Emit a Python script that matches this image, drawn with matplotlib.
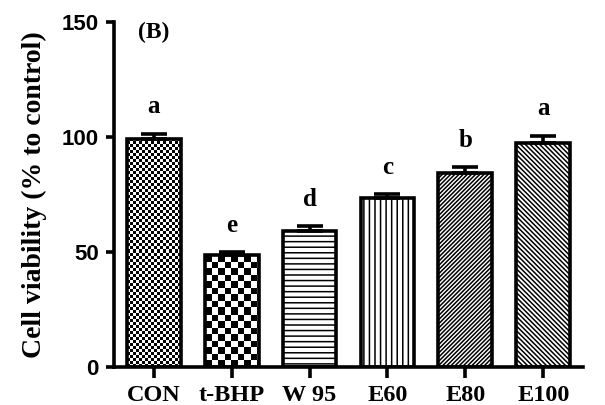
import numpy as np
import matplotlib
matplotlib.use('Agg')
import matplotlib.pyplot as plt

# data
groups = ['CON', 't-BHP', 'W 95', 'E60', 'E80', 'E100']
viability = [99.3, 48.8, 59.1, 73.5, 84.3, 97.4]
sem = [2.0, 1.0, 2.0, 1.5, 2.5, 3.0]
letters = ['a', 'e', 'd', 'c', 'b', 'a']

# fill style per bar: ('checker', cell px) or a hatch string
fills = [('checker', 3), ('checker', 6.5), '---', '|||', '/' * 8, '\\' * 7]

serif = 'Liberation Serif'
sans = 'Liberation Sans'
plt.rcParams['hatch.linewidth'] = 1.1
lw = 2.6

fig = plt.figure(figsize=(6.05, 4.05), dpi=100)
ax = fig.add_axes([114 / 605, 1 - 367 / 405, (583 - 114) / 605, (367 - 22) / 405])
ax.set_xlim(-0.51, 5.51)
ax.set_ylim(0, 150)

x = np.arange(len(groups))
width = 0.69
bars = ax.bar(x, viability, width=width, facecolor='none', edgecolor='black',
              linewidth=lw, zorder=3)

# pixels per data unit, for the checker fills
p0 = ax.transData.transform((0, 0))
p1 = ax.transData.transform((1, 1))
ppx, ppy = p1 - p0

for bar, f in zip(bars, fills):
    if isinstance(f, tuple):
        cell = f[1]
        x0 = bar.get_x()
        w = bar.get_width()
        h = bar.get_height()
        nx = int(round(w * ppx))
        ny = int(round(h * ppy))
        jj, ii = np.meshgrid(np.arange(nx), np.arange(ny))
        img = ((jj // cell + ii // cell) % 2).astype(float)
        im = ax.imshow(img, cmap='gray', extent=(x0, x0 + w, 0, h), origin='lower',
                       interpolation='nearest', aspect='auto', zorder=2)
        im.set_clip_path(bar)
    else:
        bar.set_hatch(f)

ax.errorbar(x, viability, yerr=[np.zeros(len(sem)), sem], fmt='none', ecolor='black',
            elinewidth=lw, capsize=9.5, capthick=lw, zorder=4)

for xi, v, e, lab in zip(x, viability, sem, letters):
    ax.text(xi, v + e + 9, lab, ha='center', va='baseline', family=serif,
            fontweight='bold', fontsize=18)

ax.text(0, 145.5, '(B)', ha='center', va='center', family=serif,
        fontweight='bold', fontsize=17)

for s in ['top', 'right']:
    ax.spines[s].set_visible(False)
for s in ['left', 'bottom']:
    ax.spines[s].set_linewidth(lw)

ax.set_yticks([0, 50, 100, 150])
ax.set_xticks(x)
ax.set_xticklabels(groups, family=serif, fontweight='bold', fontsize=17.5)
for t in ax.get_yticklabels():
    t.set_family(sans)
    t.set_fontweight('bold')
    t.set_fontsize(16)
ax.tick_params(axis='y', length=6, width=lw, pad=5)
ax.tick_params(axis='x', length=8, width=lw, pad=5)

fig.text(34 / 605, 1 - 195 / 405, 'Cell viability (% to control)', rotation=90,
         ha='center', va='center', family=serif, fontweight='bold', fontsize=20)

fig.savefig('out.png', dpi=100)
